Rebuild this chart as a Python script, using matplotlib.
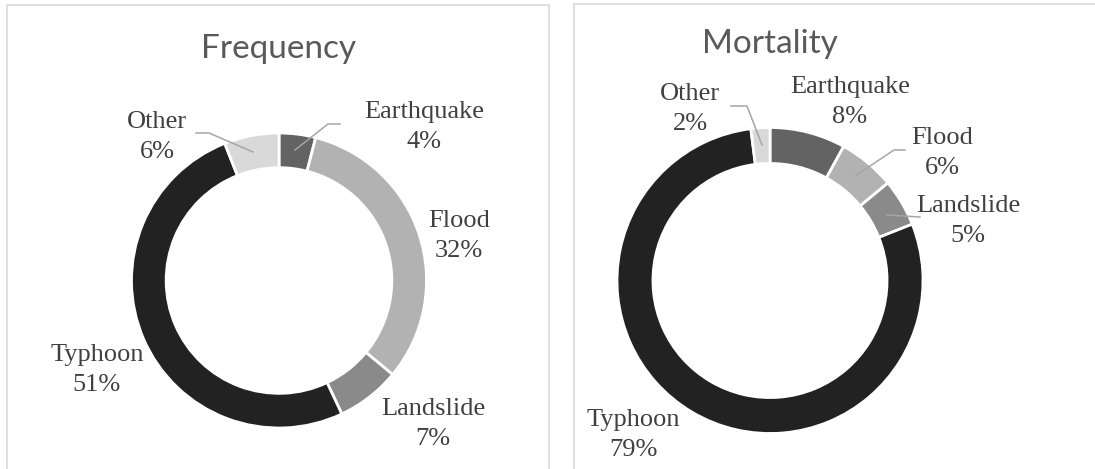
import matplotlib.pyplot as plt
from matplotlib.patches import Rectangle

# data
categories = ['Earthquake', 'Flood', 'Landslide', 'Typhoon', 'Other']
frequency = [4, 32, 7, 51, 6]
mortality = [8, 6, 5, 79, 2]
colors = ['#636363', '#b2b2b2', '#8a8a8a', '#222222', '#d9d9d9']

W, H = 1095, 469
fig = plt.figure(figsize=(W / 100, H / 100), dpi=100)
ax = fig.add_axes([0, 0, 1, 1])

def Y(py):
    # pixel row (top down) -> axes y
    return H - py

# chart frames
ax.add_patch(Rectangle((6.5, Y(480)), 542.5, 475, fill=False, ec='#d9d9d9', lw=1.2))
ax.add_patch(Rectangle((574, Y(480)), 530, 476, fill=False, ec='#d9d9d9', lw=1.2))

label_font = dict(family='Liberation Serif', size=19, color='#404040',
                  ha='center', va='center', linespacing=1.45)
title_font = dict(family='Lato', size=24, color='#595959', ha='center', va='center')
line_col = '#a6a6a6'

def donut(values, cx, cy, r, title, title_y, label_pos, leaders):
    ax.pie(values, colors=colors, center=(cx, Y(cy)), radius=r,
           startangle=90, counterclock=False,
           wedgeprops=dict(width=r * 0.235, edgecolor='white', linewidth=2))
    ax.text(cx, Y(title_y), title, **title_font)
    for name, v, (lx, ly) in zip(categories, values, label_pos):
        ax.text(lx, Y(ly), f'{name}\n{v}%', **label_font)
    for pts in leaders:
        ax.plot([p[0] for p in pts], [Y(p[1]) for p in pts], color=line_col, lw=1.1)

donut(frequency, 279, 280.5, 147.5, 'Frequency', 49,
      [(424, 127), (459, 236), (433, 424), (97, 370), (157, 137)],
      [[(295, 150), (328, 124), (340, 124)],
       [(253, 152), (209, 133), (196, 133)]])

donut(mortality, 770, 280.5, 153, 'Mortality', 44,
      [(850, 102), (942, 153), (968, 221), (633, 435), (690, 109)],
      [[(762, 145), (747, 106), (731, 106)],
       [(855, 176), (894, 150), (905, 150)],
       [(887, 215), (920, 217)]])

# pie() resets the limits, so set them afterwards
ax.set_xlim(0, W)
ax.set_ylim(0, H)
ax.set_aspect('equal')
ax.axis('off')

fig.savefig('out.png', dpi=100)
